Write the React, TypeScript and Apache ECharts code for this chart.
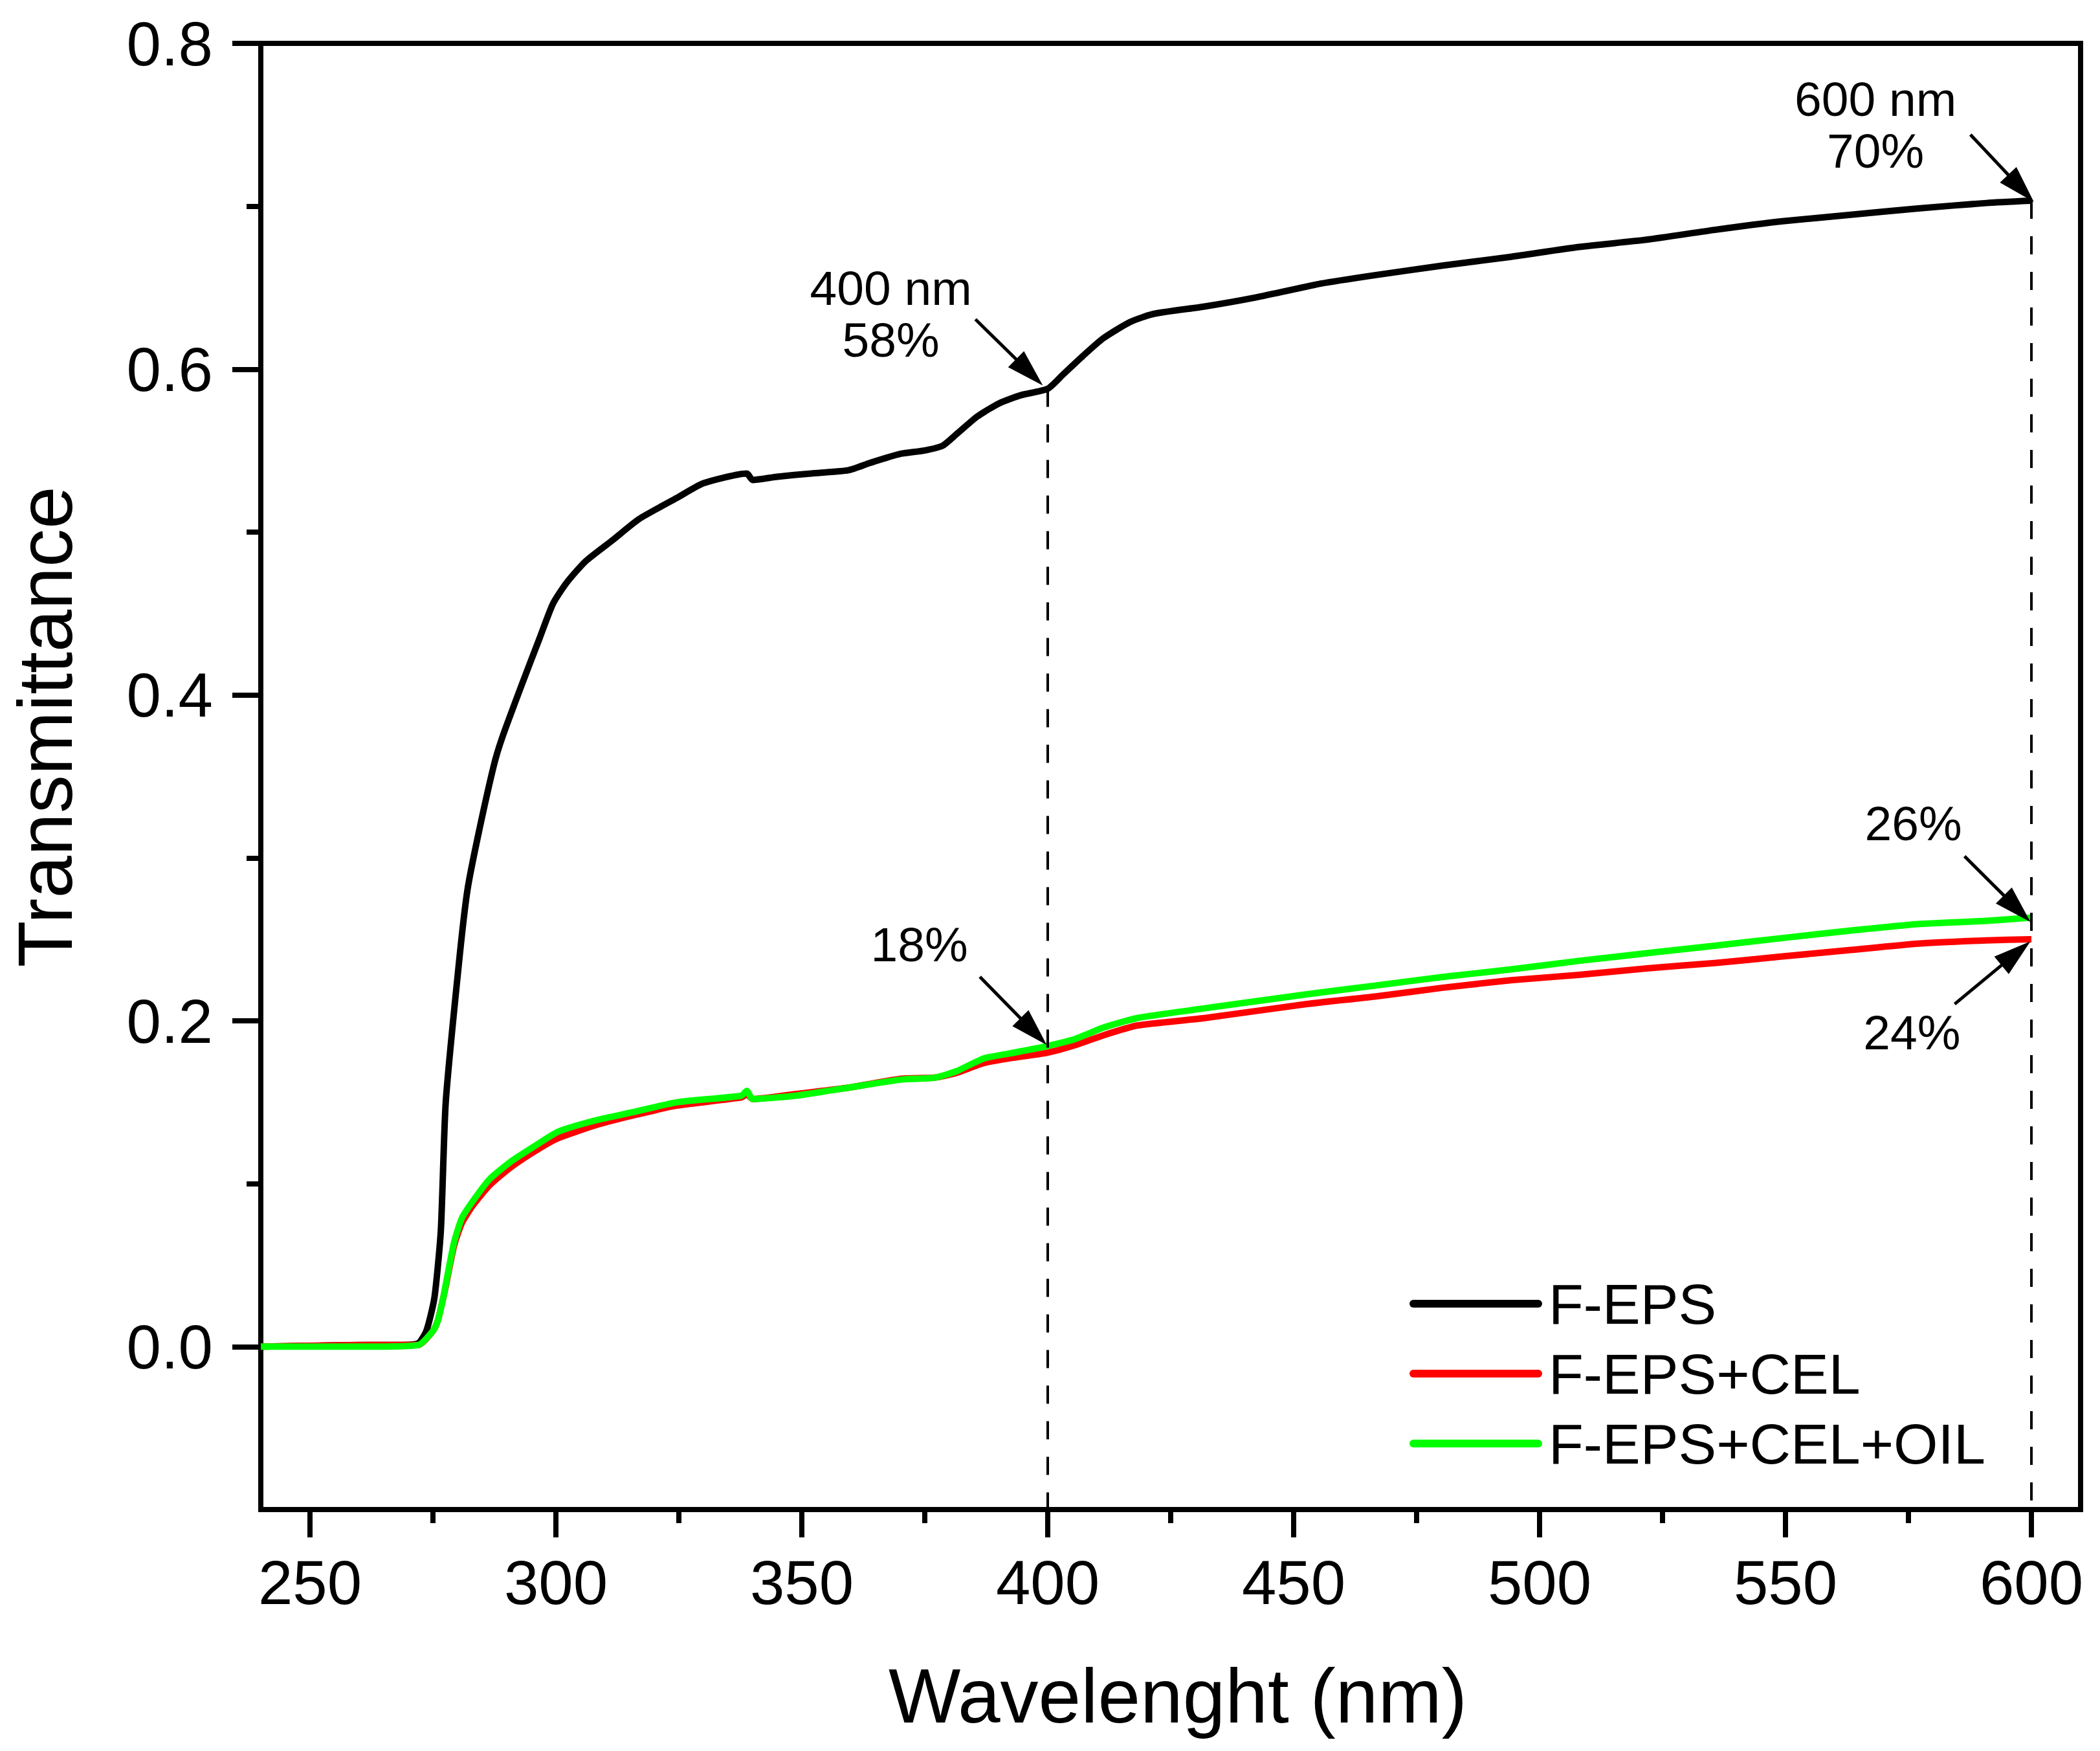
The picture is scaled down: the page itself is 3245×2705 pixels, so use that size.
import { useEffect, useRef } from 'react';
import * as echarts from 'echarts';

const FONT = '"Liberation Sans", Arial, sans-serif';

// F-EPS (black)
const fepsWavelength = [
  240, 250, 260, 268, 272, 273.7, 275.3, 276.6, 277.6, 280.3, 282, 284.2, 287.4, 289.1, 293.4,
  296.7, 299.4, 302.2, 306, 311.5, 316.9, 324.6, 330, 338.8, 340, 345, 351.9, 359.5, 363.9, 370,
  374.8, 378.6, 381.4, 385.7, 390.1, 394.5, 400, 403.2, 407.1, 411.3, 416.8, 421.6, 431.9, 441.7,
  455.5, 466.5, 480.3, 494.2, 508, 521.8, 535.6, 549.4, 563.3, 577, 590.9, 600,
];
const fepsTransmittance = [
  0, 0.0005, 0.001, 0.001, 0.002, 0.01, 0.03, 0.071, 0.15, 0.236, 0.28, 0.314, 0.357, 0.374, 0.409,
  0.435, 0.456, 0.469, 0.482, 0.495, 0.508, 0.521, 0.53, 0.536, 0.532, 0.534, 0.536, 0.538, 0.5425, 0.548,
  0.55, 0.553, 0.56, 0.571, 0.579, 0.584, 0.588, 0.597, 0.608, 0.619, 0.629, 0.634, 0.6385, 0.6437,
  0.6525, 0.6577, 0.6636, 0.669, 0.675, 0.6795, 0.6855, 0.6908, 0.6948, 0.6987, 0.702, 0.7034,
];

// F-EPS+CEL (red) and F-EPS+CEL+OIL (green) share wavelengths
const celWavelength = [
  240, 262, 272, 275.1, 276, 277.1, 277.6, 279.3, 280.9, 283.2, 286.5, 290.8, 296.3, 300.5, 308.2,
  315.8, 324.6, 337.7, 338.8, 340, 348.6, 359.5, 370.4, 377, 381.4, 386.9, 392.3, 400, 405.7, 411.3,
  418.2, 431.9, 452.7, 466.5, 480.3, 494.2, 508, 521.8, 535.6, 549.4, 563.3, 577, 590.9, 600,
];
const celTransmittance = [
  0, 0.001, 0.001, 0.01, 0.016, 0.03, 0.037, 0.062, 0.076, 0.087, 0.099, 0.11, 0.121, 0.128, 0.136,
  0.142, 0.148, 0.153, 0.155, 0.152, 0.155, 0.159, 0.1645, 0.1651, 0.168, 0.174, 0.177, 0.1805, 0.1852, 0.1911,
  0.1971, 0.2017, 0.2103, 0.2149, 0.2203, 0.2249, 0.2282, 0.2322, 0.2355, 0.2395, 0.2435, 0.2474, 0.2494, 0.2501,
];
const oilTransmittance = [
  0, 0, 0.001, 0.01, 0.016, 0.03, 0.038, 0.064, 0.079, 0.0897, 0.1027, 0.1135, 0.1243, 0.132, 0.139,
  0.144, 0.15, 0.154, 0.157, 0.152, 0.154, 0.159, 0.164, 0.1651, 0.169, 0.1768, 0.18, 0.1846, 0.189, 0.1958,
  0.2017, 0.2077, 0.2163, 0.2216, 0.2269, 0.2316, 0.2368, 0.2415, 0.2461, 0.2508, 0.2554, 0.2594, 0.2614, 0.2634,
];

const xLabelValues = [250, 300, 350, 400, 450, 500, 550, 600];
const xMinorValues = [275, 325, 375, 425, 475, 525, 575];
const yLabelValues = [0, 0.2, 0.4, 0.6, 0.8];
const yMinorValues = [0.1, 0.3, 0.5, 0.7];

// dashed guides: [wavelength, top value]
const guides = [
  [400, 0.588],
  [600, 0.7034],
];

// callout texts, centred at data coordinates
const calloutTexts = ['400 nm\n58%', '600 nm\n70%', '18%', '26%', '24%'];
const calloutPos = [
  [368.1, 0.6338],
  [568.3, 0.75],
  [373.9, 0.247],
  [576, 0.321],
  [575.7, 0.1928],
];

// arrows: [tail, tip]
const arrows = [
  [[385.3, 0.6306], [399, 0.59]],
  [[587.6, 0.744], [600.5, 0.7026]],
  [[386.2, 0.227], [399.8, 0.1852]],
  [[586.4, 0.301], [599.8, 0.2607]],
  [[584.4, 0.2103], [599.8, 0.2488]],
];

const zip = (xs: number[], ys: number[]) => xs.map((x, i) => [x, ys[i]]);

const legendIcon = 'path://M6,0 L199,0 A6,6 0 0 1 199,12 L6,12 A6,6 0 0 1 6,0 Z';

export default function App() {
  const chartRef = useRef<HTMLDivElement>(null);

  useEffect(() => {
    if (!chartRef.current) return;
    const chart = echarts.init(chartRef.current, undefined, { renderer: 'svg' });

    const lineSeries = (name: string, data: number[][], color: string) => ({
      name,
      type: 'line' as const,
      data,
      showSymbol: false,
      symbol: 'none',
      smooth: 0.2,
      lineStyle: { color, width: 10, join: 'round' as const },
      itemStyle: { color },
      z: 3,
    });

    const option: echarts.EChartsOption = {
      animation: false,
      backgroundColor: '#fff',
      textStyle: { fontFamily: FONT },
      grid: {
        left: 403,
        right: 30,
        top: 67,
        bottom: 373,
        show: true,
        borderColor: '#000',
        borderWidth: 8,
        backgroundColor: 'transparent',
      },
      xAxis: [
        {
          type: 'value',
          min: 240,
          max: 610,
          axisLine: { show: true, onZero: false, lineStyle: { color: '#000', width: 8 } },
          axisTick: {
            show: true,
            length: 43,
            customValues: xLabelValues,
            lineStyle: { color: '#000', width: 8 },
          },
          axisLabel: {
            customValues: xLabelValues,
            margin: 64,
            fontSize: 96,
            color: '#000',
            fontFamily: FONT,
          },
          splitLine: { show: false },
        },
        {
          type: 'value',
          min: 240,
          max: 610,
          position: 'bottom',
          axisLine: { show: false, onZero: false },
          axisTick: {
            show: true,
            length: 21,
            customValues: xMinorValues,
            lineStyle: { color: '#000', width: 8 },
          },
          axisLabel: { show: false },
          splitLine: { show: false },
        },
      ],
      yAxis: [
        {
          type: 'value',
          min: -0.1,
          max: 0.8,
          axisLine: { show: true, onZero: false, lineStyle: { color: '#000', width: 8 } },
          axisTick: {
            show: true,
            length: 44,
            customValues: yLabelValues,
            lineStyle: { color: '#000', width: 8 },
          },
          axisLabel: {
            customValues: yLabelValues,
            formatter: (v: number) => v.toFixed(1),
            margin: 74,
            fontSize: 96,
            color: '#000',
            fontFamily: FONT,
          },
          splitLine: { show: false },
        },
        {
          type: 'value',
          min: -0.1,
          max: 0.8,
          position: 'left',
          axisLine: { show: false, onZero: false },
          axisTick: {
            show: true,
            length: 22,
            customValues: yMinorValues,
            lineStyle: { color: '#000', width: 8 },
          },
          axisLabel: { show: false },
          splitLine: { show: false },
        },
      ],
      legend: {
        orient: 'vertical',
        left: 2173,
        top: 1965,
        itemWidth: 205,
        itemHeight: 12,
        itemGap: 20,
        icon: legendIcon,
        textStyle: { fontSize: 88, color: '#000', fontFamily: FONT, padding: [0, 0, 0, 5] },
        data: ['F-EPS', 'F-EPS+CEL', 'F-EPS+CEL+OIL'],
      },
      series: [
        lineSeries('F-EPS', zip(fepsWavelength, fepsTransmittance), '#000000'),
        lineSeries('F-EPS+CEL', zip(celWavelength, celTransmittance), '#ff0000'),
        {
          ...lineSeries('F-EPS+CEL+OIL', zip(celWavelength, oilTransmittance), '#00ff00'),
          markLine: {
            silent: true,
            symbol: ['none', 'none'],
            label: { show: false },
            z: 10,
            lineStyle: { color: '#000', width: 4, type: [28, 27] },
            data: guides.map(([x, top]) => [{ coord: [x, top] }, { coord: [x, -0.1] }]) as any,
          },
        },
      ],
    };

    chart.setOption(option);

    const toPx = (p: number[]) => chart.convertToPixel({ seriesIndex: 0 }, p) as number[];
    const HEAD_LEN = 58;
    const HEAD_W = 35;

    const arrowShapes = arrows.flatMap(([tail, tip]) => {
      const [x0, y0] = toPx(tail);
      const [x1, y1] = toPx(tip);
      const len = Math.hypot(x1 - x0, y1 - y0);
      const ux = (x1 - x0) / len;
      const uy = (y1 - y0) / len;
      const bx = x1 - ux * HEAD_LEN;
      const by = y1 - uy * HEAD_LEN;
      const nx = (-uy * HEAD_W) / 2;
      const ny = (ux * HEAD_W) / 2;
      return [
        {
          type: 'line',
          z: 100,
          shape: { x1: x0, y1: y0, x2: bx + ux * 6, y2: by + uy * 6 },
          style: { stroke: '#000', lineWidth: 5 },
        },
        {
          type: 'polygon',
          z: 100,
          shape: { points: [[x1, y1], [bx + nx, by + ny], [bx - nx, by - ny]] },
          style: { fill: '#000' },
        },
      ];
    });

    const calloutShapes = calloutTexts.map((text, i) => {
      const [x, y] = toPx(calloutPos[i]);
      return {
        type: 'text',
        z: 100,
        x,
        y,
        style: {
          text,
          fontSize: 75,
          lineHeight: 80,
          fontFamily: FONT,
          fill: '#000',
          align: 'center',
          verticalAlign: 'middle',
        },
      };
    });

    const titles = [
      {
        type: 'text',
        x: 1820,
        y: 2620,
        style: {
          text: 'Wavelenght (nm)',
          fontSize: 118,
          lineHeight: 118,
          fontFamily: FONT,
          fill: '#000',
          align: 'center',
          verticalAlign: 'middle',
        },
      },
      {
        type: 'text',
        x: 70,
        y: 1123,
        rotation: Math.PI / 2,
        style: {
          text: 'Transmittance',
          fontSize: 118,
          lineHeight: 118,
          fontFamily: FONT,
          fill: '#000',
          align: 'center',
          verticalAlign: 'middle',
        },
      },
    ];

    chart.setOption({ graphic: [...titles, ...arrowShapes, ...calloutShapes] as any });

    return () => {
      chart.dispose();
    };
  }, []);

  return (
    <div
      ref={chartRef}
      style={{ position: 'absolute', left: 0, top: 0, width: '3245px', height: '2705px' }}
    />
  );
}
